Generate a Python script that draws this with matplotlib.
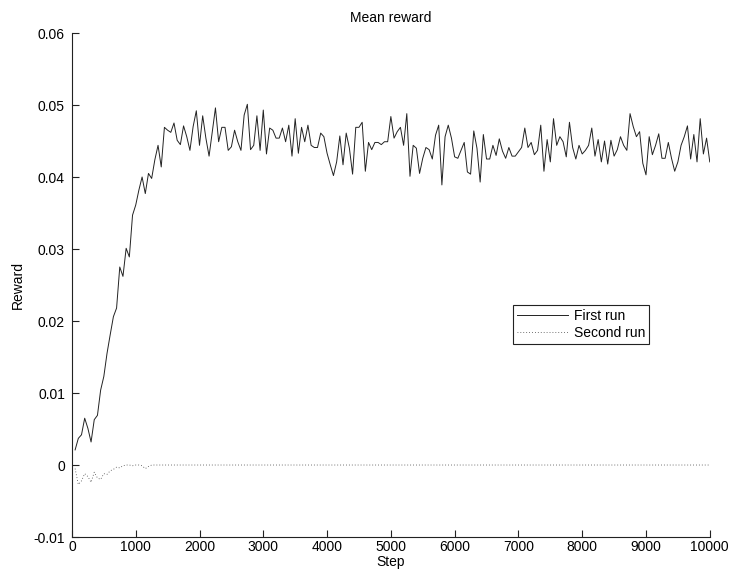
#This script plots the mean reward of the two runs

from matplotlib import pyplot as plt
from matplotlib.ticker import FuncFormatter, MultipleLocator
import numpy as np

#step numbers (one value every 50 steps)
steps = list(range(50, 10001, 50))

#mean reward of the first run
reward_first = [
    0.0021, 0.0037, 0.0042, 0.0065, 0.0051, 0.0032, 0.0063, 0.0069, 0.0104, 0.0123,
    0.0155, 0.0181, 0.0206, 0.0218, 0.0275, 0.0262, 0.0301, 0.0289, 0.0347, 0.0361,
    0.0382, 0.0400, 0.0377, 0.0405, 0.0398, 0.0424, 0.0444, 0.0414, 0.0469, 0.0465,
    0.0462, 0.0475, 0.0451, 0.0445, 0.0471, 0.0456, 0.0437, 0.0470, 0.0492, 0.0444,
    0.0485, 0.0454, 0.0429, 0.0463, 0.0496, 0.0449, 0.0469, 0.0469, 0.0437, 0.0442,
    0.0465, 0.0449, 0.0437, 0.0486, 0.0501, 0.0438, 0.0444, 0.0485, 0.0437, 0.0493,
    0.0432, 0.0468, 0.0465, 0.0454, 0.0454, 0.0468, 0.0449, 0.0472, 0.0429, 0.0481,
    0.0433, 0.0469, 0.0449, 0.0472, 0.0444, 0.0441, 0.0441, 0.0461, 0.0456, 0.0433,
    0.0417, 0.0402, 0.0421, 0.0457, 0.0417, 0.0461, 0.0440, 0.0404, 0.0469, 0.0469,
    0.0476, 0.0408, 0.0448, 0.0438, 0.0448, 0.0448, 0.0445, 0.0449, 0.0449, 0.0484,
    0.0454, 0.0463, 0.0469, 0.0444, 0.0488, 0.0401, 0.0444, 0.0440, 0.0405, 0.0426,
    0.0441, 0.0438, 0.0425, 0.0458, 0.0472, 0.0389, 0.0456, 0.0472, 0.0454, 0.0428,
    0.0426, 0.0437, 0.0448, 0.0407, 0.0404, 0.0464, 0.0440, 0.0393, 0.0459, 0.0425,
    0.0425, 0.0444, 0.0430, 0.0453, 0.0436, 0.0426, 0.0441, 0.0429, 0.0429, 0.0435,
    0.0441, 0.0468, 0.0441, 0.0448, 0.0431, 0.0437, 0.0472, 0.0408, 0.0452, 0.0421,
    0.0481, 0.0444, 0.0456, 0.0449, 0.0428, 0.0476, 0.0441, 0.0425, 0.0444, 0.0432,
    0.0437, 0.0444, 0.0468, 0.0429, 0.0452, 0.0421, 0.0450, 0.0418, 0.0451, 0.0429,
    0.0438, 0.0456, 0.0444, 0.0437, 0.0488, 0.0470, 0.0456, 0.0463, 0.0419, 0.0403,
    0.0456, 0.0431, 0.0444, 0.0460, 0.0426, 0.0426, 0.0448, 0.0426, 0.0408, 0.0421,
    0.0444, 0.0456, 0.0471, 0.0425, 0.0459, 0.0421, 0.0481, 0.0432, 0.0454, 0.0421,
]

#mean reward of the second run (only the first 25 values differ from zero)
reward_second_start = [
    -0.0005, -0.0027, -0.0022, -0.0012, -0.0016, -0.0024, -0.0010, -0.0018, -0.0020, -0.0012,
    -0.0013, -0.0008, -0.0006, -0.0003, -0.0004, -0.0001, 0.0000, 0.0000, -0.0001, 0.0000,
    0.0000, -0.0001, -0.0005, -0.0002, 0.0000,
]
reward_second = reward_second_start + [0.0] * (len(steps) - len(reward_second_start))

x_ticks = list(range(0, 10001, 1000))
y_ticks = [-0.01, 0.0, 0.01, 0.02, 0.03, 0.04, 0.05, 0.06]


def plot():
    plt.rcParams['font.family'] = ['Liberation Sans', 'DejaVu Sans']
    plt.rcParams['font.size'] = 10
    plt.rcParams['axes.unicode_minus'] = False

    fig = plt.figure(figsize=(7.34, 5.79), dpi=100)
    ax = fig.add_axes([0.098, 0.0725, 0.869, 0.8705])

    ax.plot(steps, reward_first, '-', color='#222222', lw=0.7, label='First run')
    ax.plot(steps, reward_second, color='#444444', lw=0.6, linestyle=(0, (1, 2.5)), label='Second run')

    ax.set_xlim(0, 10000)
    ax.set_ylim(-0.01, 0.06)
    ax.set_xticks(x_ticks)
    ax.set_yticks(y_ticks)
    ax.yaxis.set_major_formatter(FuncFormatter(lambda v, p: '%g' % round(v, 4)))

    #matlab look: no box, inward ticks
    ax.spines['top'].set_visible(False)
    ax.spines['right'].set_visible(False)
    for s in ['left', 'bottom']:
        ax.spines[s].set_linewidth(0.8)
        ax.spines[s].set_color('#222222')
    ax.tick_params(direction='in', length=5, width=0.8, color='#222222', labelsize=10)
    ax.tick_params(axis='x', pad=2)
    ax.tick_params(axis='y', pad=5)

    ax.set_title('Mean reward', fontsize=10, pad=8)
    ax.set_xlabel('Step', fontsize=10, labelpad=1)
    ax.set_ylabel('Reward', fontsize=10, labelpad=6)

    leg = ax.legend(loc='lower left', bbox_to_anchor=(0.691, 0.383), fancybox=False,
                    framealpha=1, edgecolor='#222222', handlelength=3.7, borderpad=0.3,
                    labelspacing=0.2, handletextpad=0.4, borderaxespad=0, fontsize=10)
    leg.get_frame().set_linewidth(0.8)

    plt.savefig('out.png', dpi=100)


plot()
